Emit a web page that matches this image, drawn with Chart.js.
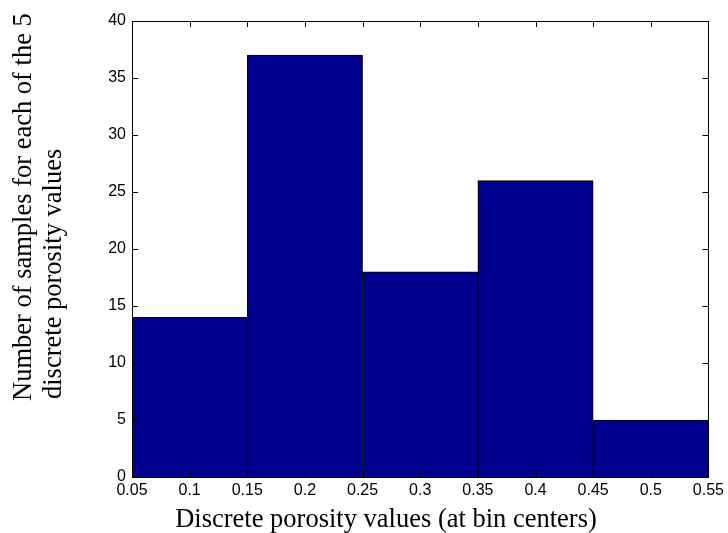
<!DOCTYPE html>
<html>
<head>
<meta charset="utf-8">
<script src="https://cdn.jsdelivr.net/npm/chart.js@4"></script>
<style>
  html, body { margin: 0; padding: 0; background: #fff; }
  #wrap { width: 728px; height: 533px; }
</style>
</head>
<body>
<div id="wrap"><canvas id="hist" width="728" height="533"></canvas></div>
<script>
// ===== Data =====
const binCenters = [0.1, 0.2, 0.3, 0.4, 0.5];
const sampleCounts = [14, 37, 18, 26, 5];
const xTicks = [0.05, 0.1, 0.15, 0.2, 0.25, 0.3, 0.35, 0.4, 0.45, 0.5, 0.55];
const yTicks = [0, 5, 10, 15, 20, 25, 30, 35, 40];
const yTitle = ['Number of samples for each of the 5', 'discrete porosity values'];
const xTitle = 'Discrete porosity values (at bin centers)';

const TICK_FONT = { family: 'Liberation Sans, Arial, sans-serif', size: 16 };
const TITLE_FONT = '26.5px "Liberation Serif", "Times New Roman", serif';

// ===== MATLAB-style box with inward ticks + axis titles =====
const boxTicks = {
    id: 'boxTicks',
    afterDatasetsDraw(chart) {
        const { ctx, chartArea: a, scales: { x, y } } = chart;
        const len = 6;
        ctx.save();
        ctx.strokeStyle = '#000';
        ctx.lineWidth = 1;
        ctx.beginPath();
        xTicks.forEach(v => {
            const px = Math.round(x.getPixelForValue(v)) + 0.5;
            ctx.moveTo(px, a.bottom); ctx.lineTo(px, a.bottom - len);
            ctx.moveTo(px, a.top); ctx.lineTo(px, a.top + len);
        });
        yTicks.forEach(v => {
            const py = Math.round(y.getPixelForValue(v)) + 0.5;
            ctx.moveTo(a.left, py); ctx.lineTo(a.left + len, py);
            ctx.moveTo(a.right, py); ctx.lineTo(a.right - len, py);
        });
        ctx.stroke();
        ctx.strokeRect(Math.round(a.left) + 0.5, Math.round(a.top) + 0.5,
            Math.round(a.right - a.left), Math.round(a.bottom - a.top));
        ctx.restore();
    },
    afterDraw(chart) {
        const { ctx, chartArea: a } = chart;
        ctx.save();
        ctx.fillStyle = '#000';
        ctx.font = TITLE_FONT;
        ctx.textBaseline = 'middle';
        // x title
        ctx.textAlign = 'center';
        ctx.fillText(xTitle, 386, a.bottom + 43);
        // y title (two lines, rotated)
        ctx.rotate(-Math.PI / 2);
        ctx.textAlign = 'left';
        ctx.fillText(yTitle[0], -401, 24);
        ctx.fillText(yTitle[1], -399, 54);
        ctx.restore();
    }
};

const ctx = document.getElementById('hist').getContext('2d');
new Chart(ctx, {
    type: 'bar',
    data: {
        datasets: [{
            data: binCenters.map((c, i) => ({ x: c, y: sampleCounts[i] })),
            backgroundColor: '#00008F',
            borderColor: '#000',
            borderWidth: 1,
            barThickness: 'flex',
            barPercentage: 1,
            categoryPercentage: 1
        }]
    },
    options: {
        responsive: false,
        devicePixelRatio: 1,
        animation: false,
        layout: { padding: { top: 21, right: 17, left: 0, bottom: 0 } },
        plugins: { legend: { display: false }, tooltip: { enabled: false } },
        scales: {
            x: {
                type: 'linear',
                min: 0.05,
                max: 0.55,
                offset: false,
                afterFit: s => { s.height = 56; },
                afterBuildTicks: s => { s.ticks = xTicks.map(v => ({ value: v })); },
                ticks: {
                    color: '#000',
                    font: TICK_FONT,
                    padding: 4,
                    maxRotation: 0,
                    autoSkip: false,
                    callback: v => String(+v.toFixed(2))
                },
                grid: { display: false, drawTicks: false },
                border: { display: false }
            },
            y: {
                min: 0,
                max: 40,
                afterFit: s => { s.width = 132; },
                afterBuildTicks: s => { s.ticks = yTicks.map(v => ({ value: v })); },
                ticks: {
                    color: '#000',
                    font: TICK_FONT,
                    padding: 6
                },
                grid: { display: false, drawTicks: false },
                border: { display: false }
            }
        }
    },
    plugins: [boxTicks]
});
</script>
</body>
</html>
